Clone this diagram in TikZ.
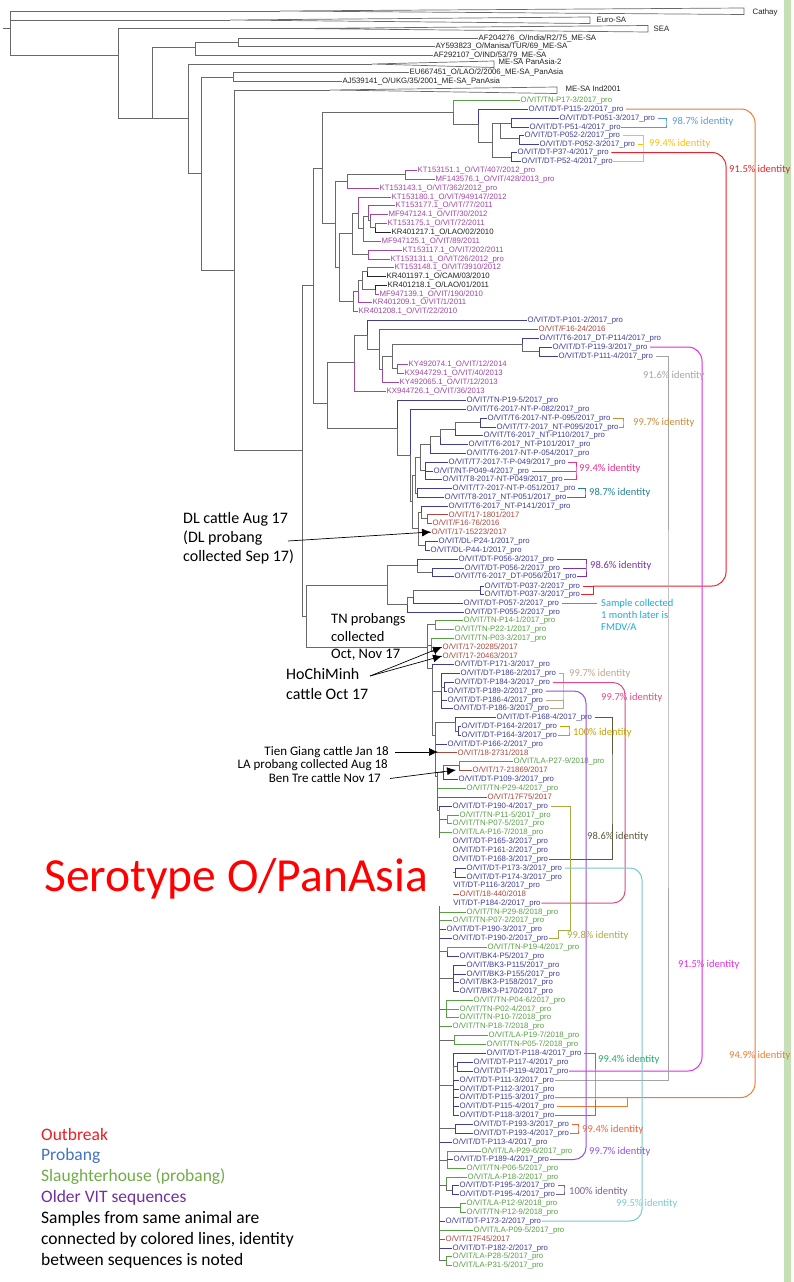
\documentclass[tikz,border=0pt]{standalone}
\usepackage{fontspec}
\setmainfont{Liberation Sans}
\newfontfamily\calib{Carlito}
\usetikzlibrary{arrows.meta}

\definecolor{treeg}{RGB}{105,105,105}
\definecolor{refc}{RGB}{35,35,35}
\definecolor{prob}{RGB}{62,62,150}
\definecolor{slau}{RGB}{88,160,70}
\definecolor{outb}{RGB}{170,72,62}
\definecolor{oldv}{RGB}{160,70,165}
\definecolor{idblue}{RGB}{91,155,213}
\definecolor{idgold}{RGB}{255,192,0}
\definecolor{idorange}{RGB}{237,125,49}
\definecolor{idred}{RGB}{235,35,45}
\definecolor{idmag}{RGB}{225,45,225}
\definecolor{idgray}{RGB}{165,165,165}
\definecolor{idbronze}{RGB}{200,140,60}
\definecolor{idpink}{RGB}{232,50,140}
\definecolor{idteal}{RGB}{35,130,150}
\definecolor{idpurp}{RGB}{120,50,170}
\definecolor{idcyan}{RGB}{30,170,220}
\definecolor{idtan}{RGB}{195,165,140}
\definecolor{idpinkb}{RGB}{225,75,135}
\definecolor{idpurpb}{RGB}{150,80,220}
\definecolor{idgoldb}{RGB}{200,160,0}
\definecolor{iddark}{RGB}{90,90,60}
\definecolor{idolive}{RGB}{170,170,70}
\definecolor{idlcyan}{RGB}{120,200,210}
\definecolor{idgreen}{RGB}{40,170,100}
\definecolor{idored}{RGB}{235,100,60}
\definecolor{idslate}{RGB}{120,100,140}
\definecolor{legred}{RGB}{235,30,35}
\definecolor{legblue}{RGB}{68,114,196}
\definecolor{leggreen}{RGB}{112,173,71}
\definecolor{legpurple}{RGB}{112,48,160}
\definecolor{barg}{RGB}{197,224,180}

\newcommand\tipnode[5]{\node[tip,text=#4] (#1) at (#2,#3) {#5};}
\newcommand\twig[3]{\draw[br,draw=#3] (#1) |- (#2.west);}
\newcommand\jointo[2]{\draw[br,draw=treeg] (#1) |- (#2);}
\newcommand\wedgeto[2]{\draw[br,draw=treeg] (#1) -- ++(#2,-3) -- ++(0,6.5) -- cycle;}

\begin{document}
\begin{tikzpicture}[x=1pt,y=-1pt,
  tip/.style={anchor=west,inner sep=0.5pt,font=\fontsize{7.8}{8}\selectfont},
  br/.style={line width=0.7pt},
  ident/.style={anchor=west,inner sep=0pt,font=\calib\fontsize{10.5}{12}\selectfont},
  link/.style={line width=1pt,shorten <=2pt},
  note/.style={anchor=west,inner sep=0pt,align=left,font=\calib\fontsize{16}{19}\selectfont},
  smallnote/.style={anchor=east,inner sep=0pt,font=\calib\fontsize{13}{13}\selectfont},
  arr/.style={line width=0.7pt,-{Latex[length=9pt,width=8pt]}},
  legend/.style={anchor=west,inner sep=0pt,align=left,font=\calib\fontsize{17.5}{21.3}\selectfont}]
\useasboundingbox (0,0) rectangle (794,1282);
\fill[white] (0,0) rectangle (794,1282);
\fill[barg] (784,0) rectangle (791,1282);

% backbone
\coordinate (root0) at (3,28);
\coordinate (R) at (10,28);
\coordinate (N1) at (118,55);
\coordinate (N2) at (152,118);
\coordinate (N3) at (195,47);
\coordinate (N5) at (238,42);
\coordinate (N4) at (188,118);
\coordinate (N6) at (201,173);
\coordinate (N7) at (233,77);
\coordinate (N8) at (234,270);
\coordinate (N9) at (302,450);
\coordinate (N10) at (313,285);
\coordinate (N11) at (322,168);
\coordinate (N12) at (327,403);
\coordinate (N14) at (306,616);
\coordinate (cathayw) at (280,11);
\coordinate (eurosaw) at (230,20);
\coordinate (seaw) at (300,28.5);
\coordinate (panasiaw) at (372,64);
\coordinate (ind2001w) at (330,90);

% collapsed clades and references
\tipnode{cathay}{752}{12}{refc}{Cathay}
\tipnode{eurosa}{596}{19.5}{refc}{Euro-SA}
\tipnode{sea}{653}{29}{refc}{SEA}
\tipnode{af204}{478}{38.5}{refc}{AF204276\_O/India/R2/75\_ME-SA}
\tipnode{ay593}{435}{46.7}{refc}{AY593823\_O/Manisa/TUR/69\_ME-SA}
\tipnode{af292}{433}{55}{refc}{AF292107\_O/IND/53/79\_ME-SA}
\tipnode{panasia}{498}{62}{refc}{ME-SA PanAsia-2}
\tipnode{eu667}{409}{72.7}{refc}{EU667451\_O/LAO/2/2006\_ME-SA\_PanAsia}
\tipnode{aj539}{342}{81.7}{refc}{AJ539141\_O/UKG/35/2001\_ME-SA\_PanAsia}
\tipnode{ind2001}{565}{89}{refc}{ME-SA Ind2001}

\draw[br,draw=treeg] (root0) -- (R);
\jointo{R}{cathayw} \wedgeto{cathayw}{464}
\jointo{R}{eurosaw} \wedgeto{eurosaw}{360}
\jointo{R}{N1}
\jointo{N1}{seaw} \wedgeto{seaw}{348}
\jointo{N1}{N2}
\jointo{N2}{N3}
\jointo{N2}{N4}
\jointo{N3}{N5}
\twig{N3}{af292}{treeg}
\twig{N5}{af204}{treeg}
\twig{N5}{ay593}{treeg}
\jointo{N4}{panasiaw} \wedgeto{panasiaw}{122}
\jointo{N4}{N6}
\jointo{N6}{N7}
\jointo{N6}{N8}
\twig{N7}{eu667}{treeg}
\twig{N7}{aj539}{treeg}
\jointo{N8}{ind2001w} \wedgeto{ind2001w}{227}
\jointo{N8}{N9}
\jointo{N9}{N10}
\jointo{N9}{N14}
\jointo{N10}{N11}
\jointo{N10}{N12}

% probang clade (top)
\coordinate (P) at (453,112);
\coordinate (Pa) at (478,124);
\coordinate (Pb) at (492,142);
\coordinate (Pc) at (500,123);
\coordinate (Pe) at (511,123);
\coordinate (Pf) at (519,138);
\coordinate (Pd) at (511,157);
\tipnode{tn173}{520}{100}{slau}{O/VIT/TN-P17-3/2017\_pro}
\tipnode{dt1152}{528}{109}{prob}{O/VIT/DT-P115-2/2017\_pro}
\tipnode{dt0513}{559}{118}{prob}{O/VIT/DT-P051-3/2017\_pro}
\tipnode{dt514}{529}{127}{prob}{O/VIT/DT-P51-4/2017\_pro}
\tipnode{dt0522}{524}{135}{prob}{O/VIT/DT-P052-2/2017\_pro}
\tipnode{dt0523}{539}{144}{prob}{O/VIT/DT-P052-3/2017\_pro}
\tipnode{dt374}{517}{152.5}{prob}{O/VIT/DT-P37-4/2017\_pro}
\tipnode{dt524}{521}{161}{prob}{O/VIT/DT-P52-4/2017\_pro}
\jointo{N11}{P}
\twig{P}{tn173}{slau}
\jointo{P}{Pa}
\twig{Pa}{dt1152}{prob}
\jointo{Pa}{Pb}
\jointo{Pb}{Pc}
\jointo{Pb}{Pd}
\jointo{Pc}{Pe}
\jointo{Pc}{Pf}
\twig{Pe}{dt0513}{prob}
\twig{Pe}{dt514}{prob}
\twig{Pf}{dt0522}{prob}
\twig{Pf}{dt0523}{prob}
\twig{Pd}{dt374}{prob}
\twig{Pd}{dt524}{prob}

% older VIT sequences
\coordinate (L) at (335,223);
\coordinate (B) at (347,181);
\coordinate (Akt) at (405,174.5);
\coordinate (K) at (339,267);
\coordinate (I) at (352,233);
\coordinate (C) at (358,213);
\coordinate (D) at (363,228.5);
\coordinate (E) at (368,216);
\coordinate (F) at (370,220);
\coordinate (G) at (375,227.5);
\coordinate (H) at (368,254.5);
\coordinate (J5) at (353,301);
\coordinate (J4) at (358,291);
\coordinate (J3) at (362,280);
\coordinate (J1) at (367,271.5);
\coordinate (J2) at (375,289.5);
\tipnode{kt151}{417}{170}{oldv}{KT153151.1\_O/VIT/407/2012\_pro}
\tipnode{mf576}{435}{179}{oldv}{MF143576.1\_O/VIT/428/2013\_pro}
\tipnode{kt143}{379}{188}{oldv}{KT153143.1\_O/VIT/362/2012\_pro}
\tipnode{kt180}{391}{197}{oldv}{KT153180.1\_O/VIT/949147/2012}
\tipnode{kt177}{395}{205.5}{oldv}{KT153177.1\_O/VIT/77/2011}
\tipnode{mf124}{388}{214}{oldv}{MF947124.1\_O/VIT/30/2012}
\tipnode{kt175}{387}{223}{oldv}{KT153175.1\_O/VIT/72/2011}
\tipnode{kr217}{391}{232}{refc}{KR401217.1\_O/LAO/02/2010}
\tipnode{mf125}{381}{241}{oldv}{MF947125.1\_O/VIT/89/2011}
\tipnode{kt117}{402}{250}{oldv}{KT153117.1\_O/VIT/202/2011}
\tipnode{kt131}{390}{259}{oldv}{KT153131.1\_O/VIT/26/2012\_pro}
\tipnode{kt148}{394}{267.5}{oldv}{KT153148.1\_O/VIT/3910/2012}
\tipnode{kr197}{386}{276}{refc}{KR401197.1\_O/CAM/03/2010}
\tipnode{kr218}{387}{285}{refc}{KR401218.1\_O/LAO/01/2011}
\tipnode{mf139}{379}{294}{oldv}{MF947139.1\_O/VIT/190/2010}
\tipnode{kr209}{372}{302.5}{oldv}{KR401209.1\_O/VIT/1/2011}
\tipnode{kr208}{358}{311}{oldv}{KR401208.1\_O/VIT/22/2010}
\jointo{N11}{L}
\jointo{L}{B}
\jointo{L}{K}
\jointo{B}{Akt}
\twig{Akt}{kt151}{oldv}
\twig{Akt}{mf576}{oldv}
\twig{B}{kt143}{oldv}
\jointo{K}{I}
\jointo{K}{J5}
\jointo{I}{C}
\jointo{I}{H}
\twig{C}{kt180}{oldv}
\jointo{C}{D}
\jointo{D}{E}
\twig{D}{mf125}{oldv}
\twig{E}{kt177}{oldv}
\jointo{E}{F}
\twig{F}{mf124}{oldv}
\jointo{F}{G}
\twig{G}{kt175}{oldv}
\twig{G}{kr217}{refc}
\twig{H}{kt117}{oldv}
\twig{H}{kt131}{oldv}
\jointo{J5}{J4}
\twig{J5}{kr208}{oldv}
\jointo{J4}{J3}
\twig{J4}{kr209}{oldv}
\jointo{J3}{J1}
\jointo{J3}{J2}
\twig{J1}{kt148}{oldv}
\twig{J1}{kr197}{refc}
\twig{J2}{kr218}{refc}
\twig{J2}{mf139}{oldv}

% DT-P114 / KY clade
\coordinate (Ne) at (354,362);
\coordinate (Nd) at (367,335);
\coordinate (Nc) at (379,349);
\coordinate (Nb) at (382,369);
\coordinate (Na) at (392,356);
\coordinate (NT6) at (522,344);
\coordinate (NT6b) at (539,351.5);
\coordinate (NKYa) at (397,368.5);
\tipnode{dt1012}{527}{320}{prob}{O/VIT/DT-P101-2/2017\_pro}
\tipnode{f1624}{538}{329}{outb}{O/VIT/F16-24/2016}
\tipnode{t6p114}{539}{338}{prob}{O/VIT/T6-2017\_DT-P114/2017\_pro}
\tipnode{dt1193}{552}{347}{prob}{O/VIT/DT-P119-3/2017\_pro}
\tipnode{dt1114}{558}{356}{prob}{O/VIT/DT-P111-4/2017\_pro}
\tipnode{ky074}{408}{364.5}{oldv}{KY492074.1\_O/VIT/12/2014}
\tipnode{kx729}{404}{373}{oldv}{KX944729.1\_O/VIT/40/2013}
\tipnode{ky065}{399}{382}{oldv}{KY492065.1\_O/VIT/12/2013}
\tipnode{kx726}{386}{391}{oldv}{KX944726.1\_O/VIT/36/2013}
\jointo{N12}{Ne}
\jointo{Ne}{Nd}
\twig{Ne}{kx726}{oldv}
\twig{Nd}{dt1012}{prob}
\jointo{Nd}{Nc}
\twig{Nc}{f1624}{outb}
\jointo{Nc}{Nb}
\jointo{Nb}{Na}
\twig{Nb}{ky065}{oldv}
\jointo{Na}{NT6}
\jointo{Na}{NKYa}
\twig{NT6}{t6p114}{prob}
\jointo{NT6}{NT6b}
\twig{NT6b}{dt1193}{prob}
\twig{NT6b}{dt1114}{prob}
\twig{NKYa}{ky074}{oldv}
\twig{NKYa}{kx729}{oldv}

% NT / DL clade
\coordinate (T2) at (397,428);
\coordinate (T1) at (410,455);
\coordinate (P4) at (412,501.5);
\coordinate (P3) at (415,475);
\coordinate (P2) at (420,457.6);
\coordinate (O4) at (430,444.7);
\coordinate (O3) at (440,436.5);
\coordinate (O2) at (455,429);
\coordinate (O1) at (480,422.5);
\coordinate (P1) at (425,470.5);
\coordinate (Q1) at (417,493);
\coordinate (R4) at (418,528);
\coordinate (R2) at (421,512);
\coordinate (R1) at (427,518.5);
\coordinate (R3) at (425,545.5);
\tipnode{tn195}{466}{400}{prob}{O/VIT/TN-P19-5/2017\_pro}
\tipnode{nt082}{466}{409}{prob}{O/VIT/T6-2017-NT-P-082/2017\_pro}
\tipnode{nt095a}{487}{418}{prob}{O/VIT/T6-2017-NT-P-095/2017\_pro}
\tipnode{nt095b}{496}{427}{prob}{O/VIT/T7-2017\_NT-P095/2017\_pro}
\tipnode{nt110}{483}{435.5}{prob}{O/VIT/T6-2017\_NT-P110/2017\_pro}
\tipnode{nt101}{468}{444}{prob}{O/VIT/T6-2017\_NT-P101/2017\_pro}
\tipnode{nt054}{466}{453}{prob}{O/VIT/T6-2017-NT-P-054/2017\_pro}
\tipnode{tp049}{448}{462}{prob}{O/VIT/T7-2017-T-P-049/2017\_pro}
\tipnode{nt0494}{433}{471}{prob}{O/VIT/NT-P049-4/2017\_pro}
\tipnode{t8p049}{442}{479.5}{prob}{O/VIT/T8-2017-NT-P049/2017\_pro}
\tipnode{nt051a}{452}{488.5}{prob}{O/VIT/T7-2017-NT-P-051/2017\_pro}
\tipnode{nt051b}{444}{497}{prob}{O/VIT/T8-2017\_NT-P051/2017\_pro}
\tipnode{nt141}{448}{506}{prob}{O/VIT/T6-2017\_NT-P141/2017\_pro}
\tipnode{o1801}{448}{514.5}{outb}{O/VIT/17-1801/2017}
\tipnode{f1676}{432}{523}{outb}{O/VIT/F16-76/2016}
\tipnode{o15223}{431}{532}{outb}{O/VIT/17-15223/2017}
\tipnode{dl241}{438}{541}{prob}{O/VIT/DL-P24-1/2017\_pro}
\tipnode{dl441}{430}{550}{prob}{O/VIT/DL-P44-1/2017\_pro}
\jointo{N12}{T2}
\twig{T2}{tn195}{prob}
\jointo{T2}{T1}
\twig{T1}{nt082}{prob}
\jointo{T1}{P4}
\jointo{P4}{P3}
\jointo{P4}{R4}
\jointo{P3}{P2}
\jointo{P3}{Q1}
\jointo{P2}{O4}
\jointo{P2}{P1}
\jointo{O4}{O3}
\twig{O4}{nt054}{prob}
\jointo{O3}{O2}
\twig{O3}{nt101}{prob}
\jointo{O2}{O1}
\twig{O2}{nt110}{prob}
\twig{O1}{nt095a}{prob}
\twig{O1}{nt095b}{prob}
\twig{P1}{tp049}{prob}
\twig{P1}{nt0494}{prob}
\twig{P1}{t8p049}{prob}
\twig{Q1}{nt051a}{prob}
\twig{Q1}{nt051b}{prob}
\jointo{R4}{R2}
\twig{R4}{o15223}{outb}
\jointo{R4}{R3}
\twig{R2}{nt141}{prob}
\jointo{R2}{R1}
\twig{R1}{o1801}{outb}
\twig{R1}{f1676}{outb}
\twig{R3}{dl241}{prob}
\twig{R3}{dl441}{prob}

% DT-P056 / P037 clade
\coordinate (V6) at (387,585);
\coordinate (V2) at (417,565.5);
\coordinate (V1) at (432,572);
\coordinate (V5) at (407,604.5);
\coordinate (V4) at (413,597);
\coordinate (V3) at (480,590);
\tipnode{dt0563}{458}{559}{prob}{O/VIT/DT-P056-3/2017\_pro}
\tipnode{dt0562}{464}{568}{prob}{O/VIT/DT-P056-2/2017\_pro}
\tipnode{t6p056}{454}{576.5}{prob}{O/VIT/T6-2017\_DT-P056/2017\_pro}
\tipnode{dt0372}{484}{586}{prob}{O/VIT/DT-P037-2/2017\_pro}
\tipnode{dt0373}{484}{594.5}{prob}{O/VIT/DT-P037-3/2017\_pro}
\tipnode{dt0572}{463}{603.5}{prob}{O/VIT/DT-P057-2/2017\_pro}
\tipnode{dt0552}{464}{612}{prob}{O/VIT/DT-P055-2/2017\_pro}
\jointo{N14}{V6}
\jointo{V6}{V2}
\jointo{V6}{V5}
\twig{V2}{dt0563}{prob}
\jointo{V2}{V1}
\twig{V1}{dt0562}{prob}
\twig{V1}{t6p056}{prob}
\jointo{V5}{V4}
\twig{V5}{dt0552}{prob}
\jointo{V4}{V3}
\twig{V4}{dt0572}{prob}
\twig{V3}{dt0372}{prob}
\twig{V3}{dt0373}{prob}

% 2017-2018 clade
\coordinate (W) at (427,647);
\coordinate (G1) at (435,624.5);
\coordinate (G2) at (431,645);
\coordinate (G3) at (435,651.5);
\coordinate (W2) at (432,668);
\coordinate (X1) at (441,691);
\coordinate (X2) at (444,687);
\coordinate (W3) at (435,735);
\coordinate (Y1) at (455,722);
\coordinate (Y2) at (458,731);
\coordinate (W4) at (437,776);
\coordinate (Z0) at (443,772);
\coordinate (Z1) at (459,765.5);
\coordinate (S) at (439,810);
\coordinate (Z2) at (447,819.5);
\coordinate (Z3) at (455,872.5);
\coordinate (Z4) at (447,951.5);
\coordinate (Z5) at (453,978);
\coordinate (Z6) at (446,1009);
\coordinate (Z7) at (454,1040);
\coordinate (Z8) at (453,1085);
\coordinate (Z9) at (457,1066.5);
\coordinate (Z10) at (455,1128.5);
\coordinate (Z11) at (447,1160);
\coordinate (Z12) at (446,1185);
\coordinate (Z13) at (452,1190);
\coordinate (Z14) at (460,1207.5);
\coordinate (Z15) at (446,1260.5);
\tipnode{tn141}{463}{620.5}{slau}{O/VIT/TN-P14-1/2017\_pro}
\tipnode{tn221}{454}{629}{slau}{O/VIT/TN-P22-1/2017\_pro}
\tipnode{tn033}{454}{638}{slau}{O/VIT/TN-P03-3/2017\_pro}
\tipnode{o20285}{442}{647}{outb}{O/VIT/17-20285/2017}
\tipnode{o20463}{442}{656}{outb}{O/VIT/17-20463/2017}
\tipnode{dt1713}{454}{664.5}{prob}{O/VIT/DT-P171-3/2017\_pro}
\tipnode{dt1862}{460}{673.5}{prob}{O/VIT/DT-P186-2/2017\_pro}
\tipnode{dt1843}{454}{682.5}{prob}{O/VIT/DT-P184-3/2017\_pro}
\tipnode{dt1892}{447}{691}{prob}{O/VIT/DT-P189-2/2017\_pro}
\tipnode{dt1864}{447}{700}{prob}{O/VIT/DT-P186-4/2017\_pro}
\tipnode{dt1863}{453}{708.5}{prob}{O/VIT/DT-P186-3/2017\_pro}
\tipnode{dt1684}{496}{717.5}{prob}{O/VIT/DT-P168-4/2017\_pro}
\tipnode{dt1642}{461}{726.5}{prob}{O/VIT/DT-P164-2/2017\_pro}
\tipnode{dt1643}{461}{735}{prob}{O/VIT/DT-P164-3/2017\_pro}
\tipnode{dt1662}{447}{744}{prob}{O/VIT/DT-P166-2/2017\_pro}
\tipnode{o2731}{457}{752.5}{outb}{O/VIT/18-2731/2018}
\tipnode{la279}{513}{761}{slau}{O/VIT/LA-P27-9/2018\_pro}
\tipnode{o21869}{472}{770}{outb}{O/VIT/17-21869/2017}
\tipnode{dt1093}{458}{779}{prob}{O/VIT/DT-P109-3/2017\_pro}
\tipnode{tn294}{466}{788}{slau}{O/VIT/TN-P29-4/2017\_pro}
\tipnode{o17f75}{487}{797}{outb}{O/VIT/17F75/2017}
\tipnode{dt1904}{452}{806}{prob}{O/VIT/DT-P190-4/2017\_pro}
\tipnode{tn115}{459}{815}{slau}{O/VIT/TN-P11-5/2017\_pro}
\tipnode{tn075}{452}{823.5}{slau}{O/VIT/TN-P07-5/2017\_pro}
\tipnode{la167}{452}{832}{slau}{O/VIT/LA-P16-7/2018\_pro}
\tipnode{dt1653}{452}{841.5}{prob}{O/VIT/DT-P165-3/2017\_pro}
\tipnode{dt1612}{452}{850}{prob}{O/VIT/DT-P161-2/2017\_pro}
\tipnode{dt1683}{452}{859}{prob}{O/VIT/DT-P168-3/2017\_pro}
\tipnode{dt1733}{466}{868}{prob}{O/VIT/DT-P173-3/2017\_pro}
\tipnode{dt1743}{466}{877}{prob}{O/VIT/DT-P174-3/2017\_pro}
\tipnode{dt1163}{444.5}{885.5}{prob}{O/VIT/DT-P116-3/2017\_pro}
\tipnode{o440}{459}{894}{outb}{O/VIT/18-440/2018}
\tipnode{dt1842}{444.5}{903}{prob}{O/VIT/DT-P184-2/2017\_pro}
\tipnode{tn298}{466}{912}{slau}{O/VIT/TN-P29-8/2018\_pro}
\tipnode{tn072}{452}{920.5}{slau}{O/VIT/TN-P07-2/2017\_pro}
\tipnode{dt1903}{446}{929}{prob}{O/VIT/DT-P190-3/2017\_pro}
\tipnode{dt1902}{452}{938}{prob}{O/VIT/DT-P190-2/2017\_pro}
\tipnode{tn194}{487}{947}{slau}{O/VIT/TN-P19-4/2017\_pro}
\tipnode{bk4p5}{459}{956}{prob}{O/VIT/BK4-P5/2017\_pro}
\tipnode{bk115}{466}{965}{prob}{O/VIT/BK3-P115/2017\_pro}
\tipnode{bk155}{466}{974}{prob}{O/VIT/BK3-P155/2017\_pro}
\tipnode{bk158}{459}{982.5}{prob}{O/VIT/BK3-P158/2017\_pro}
\tipnode{bk170}{459}{991}{prob}{O/VIT/BK3-P170/2017\_pro}
\tipnode{tn046}{473}{1000}{slau}{O/VIT/TN-P04-6/2017\_pro}
\tipnode{tn024}{459}{1009}{slau}{O/VIT/TN-P02-4/2017\_pro}
\tipnode{tn107}{459}{1017.5}{slau}{O/VIT/TN-P10-7/2018\_pro}
\tipnode{tn187}{452}{1026.5}{slau}{O/VIT/TN-P18-7/2018\_pro}
\tipnode{la197}{488}{1035.5}{slau}{O/VIT/LA-P19-7/2018\_pro}
\tipnode{tn057}{486}{1044.5}{slau}{O/VIT/TN-P05-7/2018\_pro}
\tipnode{dt1184}{486}{1053.5}{prob}{O/VIT/DT-P118-4/2017\_pro}
\tipnode{dt1174}{473}{1062}{prob}{O/VIT/DT-P117-4/2017\_pro}
\tipnode{dt1194}{473}{1071}{prob}{O/VIT/DT-P119-4/2017\_pro}
\tipnode{dt1113}{459}{1080}{prob}{O/VIT/DT-P111-3/2017\_pro}
\tipnode{dt1123}{459}{1089}{prob}{O/VIT/DT-P112-3/2017\_pro}
\tipnode{dt1153}{459}{1097.5}{prob}{O/VIT/DT-P115-3/2017\_pro}
\tipnode{dt1154}{459}{1106.5}{prob}{O/VIT/DT-P115-4/2017\_pro}
\tipnode{dt1183}{459}{1115.5}{prob}{O/VIT/DT-P118-3/2017\_pro}
\tipnode{dt1933}{473}{1124}{prob}{O/VIT/DT-P193-3/2017\_pro}
\tipnode{dt1934}{473}{1133}{prob}{O/VIT/DT-P193-4/2017\_pro}
\tipnode{dt1134}{452}{1142}{prob}{O/VIT/DT-P113-4/2017\_pro}
\tipnode{la296}{481}{1151}{slau}{O/VIT/LA-P29-6/2017\_pro}
\tipnode{dt1894}{453}{1159.5}{prob}{O/VIT/DT-P189-4/2017\_pro}
\tipnode{tn065}{466}{1168}{slau}{O/VIT/TN-P06-5/2017\_pro}
\tipnode{la182}{467}{1177}{slau}{O/VIT/LA-P18-2/2017\_pro}
\tipnode{dt1953}{459}{1185.5}{prob}{O/VIT/DT-P195-3/2017\_pro}
\tipnode{dt1954}{459}{1194.5}{prob}{O/VIT/DT-P195-4/2017\_pro}
\tipnode{la129}{466}{1203}{slau}{O/VIT/LA-P12-9/2018\_pro}
\tipnode{tn129}{466}{1212}{slau}{O/VIT/TN-P12-9/2018\_pro}
\tipnode{dt1732}{445}{1221}{prob}{O/VIT/DT-P173-2/2017\_pro}
\tipnode{la095}{473}{1230}{slau}{O/VIT/LA-P09-5/2017\_pro}
\tipnode{o17f45}{445}{1239}{outb}{O/VIT/17F45/2017}
\tipnode{dt1822}{452}{1248}{prob}{O/VIT/DT-P182-2/2017\_pro}
\tipnode{la285}{452}{1256.5}{slau}{O/VIT/LA-P28-5/2017\_pro}
\tipnode{la315}{452}{1265}{slau}{O/VIT/LA-P31-5/2017\_pro}
\jointo{N14}{W}
\jointo{W}{G1}
\jointo{W}{G2}
\jointo{W}{W2}
\twig{G1}{tn141}{slau}
\twig{G1}{tn221}{slau}
\twig{G2}{tn033}{slau}
\jointo{G2}{G3}
\twig{G3}{o20285}{outb}
\twig{G3}{o20463}{outb}
\twig{W2}{dt1713}{prob}
\jointo{W2}{X1}
\jointo{W2}{W3}
\twig{X1}{dt1862}{prob}
\jointo{X1}{X2}
\twig{X1}{dt1864}{prob}
\twig{X1}{dt1863}{prob}
\twig{X2}{dt1843}{prob}
\twig{X2}{dt1892}{prob}
\jointo{W3}{Y1}
\twig{W3}{dt1662}{prob}
\twig{W3}{o2731}{outb}
\jointo{W3}{W4}
\twig{Y1}{dt1684}{prob}
\jointo{Y1}{Y2}
\twig{Y2}{dt1642}{prob}
\twig{Y2}{dt1643}{prob}
\jointo{W4}{Z0}
\twig{W4}{tn294}{slau}
\twig{W4}{o17f75}{outb}
\jointo{W4}{S}
\jointo{Z0}{Z1}
\twig{Z0}{dt1093}{prob}
\twig{Z1}{la279}{slau}
\twig{Z1}{o21869}{outb}
\twig{S}{dt1904}{prob}
\jointo{S}{Z2}
\twig{Z2}{tn115}{slau}
\twig{Z2}{tn075}{slau}
\twig{S}{la167}{slau}
\twig{S}{dt1653}{prob}
\twig{S}{dt1612}{prob}
\twig{S}{dt1683}{prob}
\jointo{S}{Z3}
\twig{Z3}{dt1733}{prob}
\twig{Z3}{dt1743}{prob}
\twig{S}{dt1163}{prob}
\twig{S}{o440}{outb}
\twig{S}{dt1842}{prob}
\twig{S}{tn298}{slau}
\twig{S}{tn072}{slau}
\twig{S}{dt1903}{prob}
\twig{S}{dt1902}{prob}
\jointo{S}{Z4}
\twig{Z4}{tn194}{slau}
\twig{Z4}{bk4p5}{prob}
\jointo{S}{Z5}
\twig{Z5}{bk115}{prob}
\twig{Z5}{bk155}{prob}
\twig{Z5}{bk158}{prob}
\twig{Z5}{bk170}{prob}
\jointo{S}{Z6}
\twig{Z6}{tn046}{slau}
\twig{Z6}{tn024}{slau}
\twig{Z6}{tn107}{slau}
\twig{S}{tn187}{slau}
\jointo{S}{Z7}
\twig{Z7}{la197}{slau}
\twig{Z7}{tn057}{slau}
\jointo{S}{Z8}
\twig{Z8}{dt1184}{prob}
\jointo{Z8}{Z9}
\twig{Z9}{dt1174}{prob}
\twig{Z9}{dt1194}{prob}
\twig{Z8}{dt1113}{prob}
\twig{Z8}{dt1123}{prob}
\twig{Z8}{dt1153}{prob}
\twig{Z8}{dt1154}{prob}
\twig{Z8}{dt1183}{prob}
\jointo{S}{Z10}
\twig{Z10}{dt1933}{prob}
\twig{Z10}{dt1934}{prob}
\twig{S}{dt1134}{prob}
\jointo{S}{Z11}
\twig{Z11}{la296}{slau}
\twig{Z11}{dt1894}{prob}
\twig{Z11}{tn065}{slau}
\jointo{S}{Z12}
\twig{Z12}{la182}{slau}
\jointo{Z12}{Z13}
\twig{Z13}{dt1953}{prob}
\twig{Z13}{dt1954}{prob}
\jointo{S}{Z14}
\twig{Z14}{la129}{slau}
\twig{Z14}{tn129}{slau}
\twig{S}{dt1732}{prob}
\twig{S}{la095}{slau}
\twig{S}{o17f45}{outb}
\twig{S}{dt1822}{prob}
\jointo{S}{Z15}
\twig{Z15}{la285}{slau}
\twig{Z15}{la315}{slau}

% samples from the same animal
\coordinate (kblue) at (666,123);
\coordinate (kyel) at (643,148);
\coordinate (korange) at (755,600);
\coordinate (korb) at (627,1097.5);
\coordinate (kred) at (726,370);
\coordinate (kredb) at (593,586);
\coordinate (kmag) at (702,700);
\coordinate (kgray) at (668,700);
\coordinate (kbronze) at (623,422.5);
\coordinate (kpink) at (576,470.5);
\coordinate (kteal) at (585,493);
\coordinate (kpurp) at (586,567.5);
\coordinate (kcyan) at (597,603.5);
\coordinate (ktan) at (563,691);
\coordinate (kpinkb) at (625,800);
\coordinate (kpurpb) at (586,930);
\coordinate (kgold) at (569,731);
\coordinate (kdark) at (612,790);
\coordinate (kolv1) at (570,930);
\coordinate (kolv2) at (558,938);
\coordinate (klcyan) at (642,1000);
\coordinate (kgreen) at (595,1085);
\coordinate (kored) at (578,1128.5);
\coordinate (kslate) at (564,1190);

\draw[link,draw=idblue] (dt0513.east) -| (kblue) |- (dt514.east);
\draw[link,draw=idgold] (dt0522.east) -| (kyel) |- (dt524.east);
\draw[link,draw=idgold] (dt0523.east) -- (dt0523.east -| kyel);
\draw[link,draw=idorange,rounded corners=14pt] (dt1152.east) -| (korange) |- (dt1153.east);
\draw[link,draw=idorange] (dt1154.east) -| (korb);
\draw[link,draw=idred,rounded corners=14pt] (dt374.east) -| (kred) |- (kredb);
\draw[link,draw=idred] (dt0372.east) -- (kredb) |- (dt0373.east);
\draw[link,draw=idmag,rounded corners=14pt] (dt1193.east) -| (kmag) |- (dt1194.east);
\draw[link,draw=idgray] (dt1114.east) -| (kgray) |- (dt1113.east);
\draw[link,draw=idbronze] (nt095a.east) -| (kbronze) |- (nt095b.east);
\draw[link,draw=idpink] (tp049.east) -| (kpink) |- (t8p049.east);
\draw[link,draw=idpink] (nt0494.east) -- (nt0494.east -| kpink);
\draw[link,draw=idteal] (nt051a.east) -| (kteal) |- (nt051b.east);
\draw[link,draw=idpurp] (dt0563.east) -| (kpurp) |- (t6p056.east);
\draw[link,draw=idpurp] (dt0562.east) -- (dt0562.east -| kpurp);
\draw[link,draw=idcyan] (dt0572.east) -- (kcyan);
\draw[link,draw=idtan] (dt1862.east) -| (ktan) |- (dt1863.east);
\draw[link,draw=idtan] (dt1864.east) -- (dt1864.east -| ktan);
\draw[link,draw=idpinkb,rounded corners=12pt] (dt1843.east) -| (kpinkb) |- (dt1842.east);
\draw[link,draw=idpurpb,rounded corners=12pt] (dt1892.east) -| (kpurpb) |- (dt1894.east);
\draw[link,draw=idgoldb] (dt1642.east) -| (kgold) |- (dt1643.east);
\draw[link,draw=iddark] (dt1684.east) -| (kdark) |- (dt1683.east);
\draw[link,draw=idolive] (dt1904.east) -| (kolv1) -| (kolv2) -- (dt1902.east);
\draw[link,draw=idlcyan,rounded corners=12pt] (dt1733.east) -| (klcyan) |- (dt1732.east);
\draw[link,draw=idgreen] (dt1184.east) -| (kgreen) |- (dt1183.east);
\draw[link,draw=idored] (dt1933.east) -| (kored) |- (dt1934.east);
\draw[link,draw=idslate] (dt1953.east) -| (kslate) |- (dt1954.east);

\node[ident,text=idblue] (id987a) at (672,122) {98.7\% identity};
\node[ident,text=idgold] (id994a) at (649,144) {99.4\% identity};
\node[ident,text=idred] (id915a) at (729,170) {91.5\% identity};
\node[ident,text=idgray] (id916) at (643,376) {91.6\% identity};
\node[ident,text=idbronze] (id997a) at (633,423) {99.7\% identity};
\node[ident,text=idpink] (id994b) at (579,469) {99.4\% identity};
\node[ident,text=idteal] (id987b) at (589,493) {98.7\% identity};
\node[ident,text=idpurp] (id986a) at (590,566) {98.6\% identity};
\node[ident,text=idcyan,anchor=north west,align=left] (fmdva) at (601,599) {Sample collected\\1 month later is\\FMDV/A};
\node[ident,text=idtan] (id997b) at (569,674) {99.7\% identity};
\node[ident,text=idpinkb] (id997c) at (601,698) {99.7\% identity};
\node[ident,text=idgoldb] (id100a) at (573,733) {100\% identity};
\node[ident,text=iddark] (id986b) at (587,837) {98.6\% identity};
\node[ident,text=idolive] (id998) at (567,936) {99.8\% identity};
\node[ident,text=idmag] (id915b) at (678,965) {91.5\% identity};
\node[ident,text=idorange] (id949) at (729,1056) {94.9\% identity};
\node[ident,text=idgreen] (id994c) at (598,1060) {99.4\% identity};
\node[ident,text=idored] (id994d) at (582,1130) {99.4\% identity};
\node[ident,text=idpurpb] (id997d) at (589,1152) {99.7\% identity};
\node[ident,text=idslate] (id100b) at (569,1192) {100\% identity};
\node[ident,text=idlcyan] (id995) at (616,1204) {99.5\% identity};

% notes
\node[note] (dlnote) at (183,538) {DL cattle Aug 17\\(DL probang\\collected Sep 17)};
\coordinate (dlfrom) at (288,541);
\draw[arr] (dlfrom) -- (o15223.west);
\node[note,font=\calib\fontsize{14.5}{17.5}\selectfont] (tnnote) at (331,637) {TN probangs\\collected\\Oct, Nov 17};
\node[note,font=\calib\fontsize{16}{19.5}\selectfont] (hcmnote) at (286,684) {HoChiMinh\\cattle Oct 17};
\coordinate (hcmfrom) at (370,676);
\draw[arr] (hcmfrom) -- (o20285.west);
\draw[arr] (hcmfrom) -- (o20463.west);
\node[smallnote] (tgnote) at (389,752) {Tien Giang cattle Jan 18};
\node[smallnote] (lanote) at (388,765.5) {LA probang collected Aug 18};
\node[smallnote] (btnote) at (381,778.5) {Ben Tre cattle Nov 17};
\coordinate (tgtip) at (438,752);
\coordinate (bttip) at (456,770);
\draw[arr] ([xshift=6pt]tgnote.east) -- (tgtip);
\draw[arr] ([xshift=9pt]btnote.east) -- (bttip);

% serotype title over the tree
\fill[white] (38,838) rectangle (453,906);
\node[anchor=west,inner sep=0pt,text=red,font=\calib\fontsize{47.5}{47.5}\selectfont] (sero) at (44,879) {Serotype O/PanAsia};

% legend
\node[legend,text=legred] (legout) at (41,1134) {Outbreak};
\node[legend,text=legblue] (legprob) at (41,1155.5) {Probang};
\node[legend,text=leggreen] (legslau) at (41,1177) {Slaughterhouse (probang)};
\node[legend,text=legpurple] (legold) at (41,1198) {Older VIT sequences};
\node[legend,text=black] (legnote) at (41,1240) {Samples from same animal are\\connected by colored lines, identity\\between sequences is noted};
\end{tikzpicture}
\end{document}
